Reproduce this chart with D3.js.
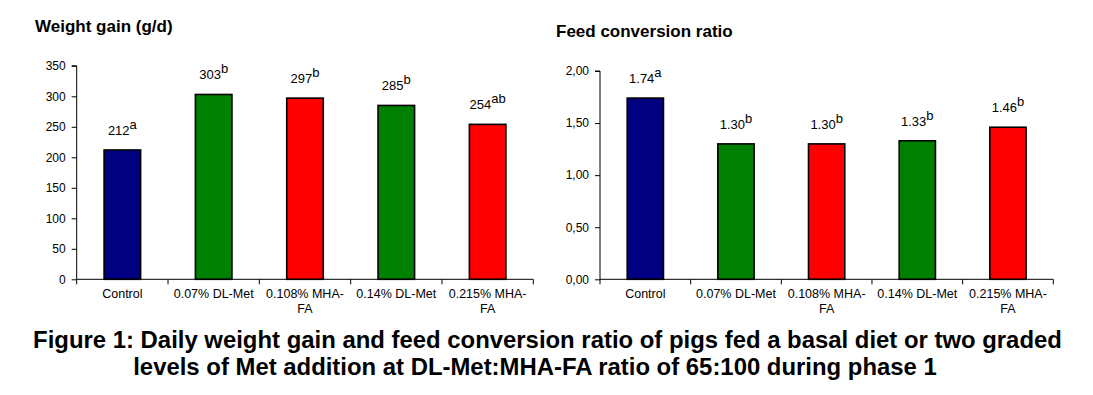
<!DOCTYPE html>
<html>
<head>
<meta charset="utf-8">
<script src="https://cdn.jsdelivr.net/npm/d3@7/dist/d3.min.js"></script>
<style>
  html, body { margin: 0; padding: 0; background: #fff; }
  svg { display: block; }
  text { font-family: Arial, "Liberation Sans", sans-serif; fill: #000; }
</style>
</head>
<body>
<svg id="chart" width="1093" height="395"></svg>
<script>
// ---- data ----
const categories = ["Control", "0.07% DL-Met", "0.108% MHA-FA", "0.14% DL-Met", "0.215% MHA-FA"];
const categoryLines = [["Control"], ["0.07% DL-Met"], ["0.108% MHA-", "FA"], ["0.14% DL-Met"], ["0.215% MHA-", "FA"]];
const barColors = ["#000080", "#008000", "#FF0000", "#008000", "#FF0000"];

const weightGain = [212, 303, 297, 285, 254];
const weightGainLetters = ["a", "b", "b", "b", "ab"];
const weightGainLabels = ["212", "303", "297", "285", "254"];
const weightGainTicks = [0, 50, 100, 150, 200, 250, 300, 350];

const fcr = [1.74, 1.30, 1.30, 1.33, 1.46];
const fcrLetters = ["a", "b", "b", "b", "b"];
const fcrLabels = ["1.74", "1.30", "1.30", "1.33", "1.46"];
const fcrTicks = [0, 0.5, 1.0, 1.5, 2.0];
const fcrTickLabels = ["0,00", "0,50", "1,00", "1,50", "2,00"];

const titles = ["Weight gain (g/d)", "Feed conversion ratio"];
const captionLines = [
  "Figure 1: Daily weight gain and feed conversion ratio of pigs fed a basal diet or two graded",
  "levels of Met addition at DL-Met:MHA-FA ratio of 65:100 during phase 1"
];

// ---- drawing ----
const svg = d3.select("#chart");
svg.append("rect").attr("width", 1093).attr("height", 395).attr("fill", "#fff");

function panel(opts) {
  const g = svg.append("g");
  const x = d3.scaleBand().domain(categories).range([opts.x0, opts.x1]).paddingInner(0).paddingOuter(0);
  const y = d3.scaleLinear().domain(opts.domain).range([opts.yBottom, opts.yTop]);

  // title
  g.append("text")
    .attr("x", opts.titleX).attr("y", opts.titleY)
    .attr("font-size", 17).attr("font-weight", "bold")
    .text(opts.title);

  // y axis
  const yAxis = d3.axisLeft(y).tickValues(opts.ticks).tickSize(5).tickPadding(6)
    .tickFormat((d, i) => opts.tickLabels[i]);
  const ya = g.append("g").attr("transform", `translate(${opts.x0},0)`).call(yAxis);
  ya.select(".domain").attr("stroke", "#000").attr("stroke-width", 1).attr("d", `M-5,${y(opts.domain[1])}H0V${y(0)}`);
  ya.selectAll(".tick line").attr("stroke", "#000");
  ya.selectAll(".tick text").attr("font-size", 12).attr("font-family", "Arial, 'Liberation Sans', sans-serif").attr("fill", "#000");

  // bars
  const bw = x.bandwidth() * 0.4;
  g.selectAll("rect.bar").data(opts.values).enter().append("rect")
    .attr("class", "bar")
    .attr("x", (d, i) => x(categories[i]) + (x.bandwidth() - bw) / 2)
    .attr("y", d => y(d))
    .attr("width", bw)
    .attr("height", d => y(0) - y(d))
    .attr("fill", (d, i) => barColors[i])
    .attr("stroke", "#000").attr("stroke-width", 1.6);

  // x axis line + separators
  g.append("line").attr("x1", opts.x0).attr("x2", opts.x1)
    .attr("y1", y(0)).attr("y2", y(0)).attr("stroke", "#000").attr("stroke-width", 1);
  const seps = categories.map(c => x(c)).concat([opts.x1]);
  g.selectAll("line.sep").data(seps).enter().append("line")
    .attr("x1", d => d).attr("x2", d => d)
    .attr("y1", y(0)).attr("y2", y(0) + 5)
    .attr("stroke", "#000").attr("stroke-width", 1);

  // category labels
  categoryLines.forEach((lines, i) => {
    const t = g.append("text")
      .attr("x", x(categories[i]) + x.bandwidth() / 2)
      .attr("y", y(0) + 19)
      .attr("text-anchor", "middle")
      .attr("font-size", 12.5);
    lines.forEach((ln, j) => {
      t.append("tspan").attr("x", x(categories[i]) + x.bandwidth() / 2)
        .attr("dy", j === 0 ? 0 : 14.5).text(ln);
    });
  });

  // value labels
  opts.values.forEach((v, i) => {
    const t = g.append("text")
      .attr("x", x(categories[i]) + x.bandwidth() / 2)
      .attr("y", y(v) - 15)
      .attr("text-anchor", "middle")
      .attr("font-size", 13);
    t.append("tspan").text(opts.labels[i]);
    t.append("tspan").attr("dy", -6).text(opts.letters[i]);
  });
}

panel({
  x0: 76.7, x1: 533.3, yBottom: 279.3, yTop: 65.8,
  domain: [0, 350], ticks: weightGainTicks, tickLabels: weightGainTicks.map(String),
  values: weightGain, labels: weightGainLabels, letters: weightGainLetters,
  title: titles[0], titleX: 35, titleY: 32
});

panel({
  x0: 600, x1: 1053.3, yBottom: 279.3, yTop: 71,
  domain: [0, 2], ticks: fcrTicks, tickLabels: fcrTickLabels,
  values: fcr, labels: fcrLabels, letters: fcrLetters,
  title: titles[1], titleX: 556, titleY: 37
});

// caption
const captionCenters = [547.5, 535];
captionLines.forEach((ln, i) => {
  svg.append("text")
    .attr("x", captionCenters[i]).attr("y", 348 + i * 27)
    .attr("text-anchor", "middle")
    .attr("font-size", 23.9).attr("font-weight", "bold")
    .text(ln);
});
</script>
</body>
</html>
